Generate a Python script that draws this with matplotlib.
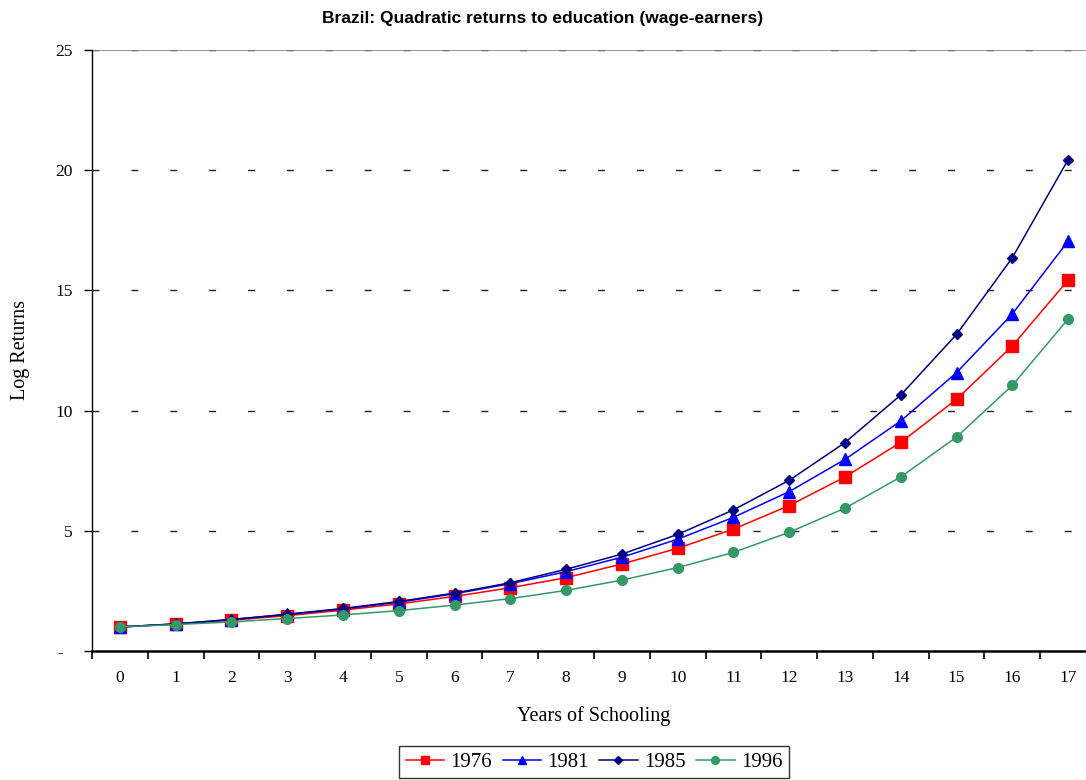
import matplotlib
matplotlib.use("Agg")
import matplotlib.pyplot as plt

# dados
anos_estudo = list(range(18))
r1976 = [1.00, 1.12, 1.28, 1.47, 1.70, 1.96, 2.27, 2.63, 3.05, 3.62, 4.27, 5.07, 6.05, 7.24, 8.68, 10.47, 12.69, 15.43]
r1981 = [1.00, 1.12, 1.31, 1.52, 1.75, 2.03, 2.38, 2.80, 3.30, 3.90, 4.65, 5.56, 6.63, 7.97, 9.57, 11.58, 14.02, 17.05]
r1985 = [1.00, 1.13, 1.31, 1.53, 1.77, 2.06, 2.41, 2.84, 3.40, 4.03, 4.85, 5.87, 7.10, 8.67, 10.65, 13.17, 16.36, 20.44]
r1996 = [1.00, 1.10, 1.21, 1.35, 1.50, 1.68, 1.91, 2.18, 2.52, 2.95, 3.47, 4.10, 4.94, 5.94, 7.24, 8.90, 11.05, 13.81]
y_ticks = [0, 5, 10, 15, 20, 25]
y_labels = ["-  ", "5", "10", "15", "20", "25"]

serif = "Liberation Serif"

fig = plt.figure(figsize=(10.86, 7.8), dpi=100)
# eixo vai alem da borda direita como no original
ax = fig.add_axes([92/1086, 129/780, 1004/1086, 601/780])

ax.plot(anos_estudo, r1976, color="#FF0000", marker="s", markersize=8, lw=1.1, label="1976")
ax.plot(anos_estudo, r1981, color="#0000FF", marker="^", markersize=8, lw=1.1, label="1981")
ax.plot(anos_estudo, r1985, color="#000080", marker="D", markersize=5.5, lw=1.1, label="1985")
ax.plot(anos_estudo, r1996, color="#339966", marker="o", markersize=7, lw=1.1, label="1996")

ax.set_xlim(-0.5, 17.5)
ax.set_ylim(0, 25)

# grade tracejada
for v in y_ticks[1:]:
    ax.axhline(v, color="#222222", lw=1.0, dashes=(5, 23), zorder=0)
ax.axhline(25, color="#808080", lw=1.2, zorder=0)

ax.set_yticks(y_ticks)
ax.set_yticklabels(y_labels, fontfamily=serif, fontsize=12.5)
ax.set_xticks(anos_estudo)
ax.set_xticklabels([str(a) for a in anos_estudo], fontfamily=serif, fontsize=12.5)
ax.set_xticks([a - 0.5 for a in anos_estudo] + [17.5], minor=True)
ax.tick_params(axis="x", which="major", length=0, pad=14)
ax.tick_params(axis="x", which="minor", length=6, width=1.2, direction="out")
ax.tick_params(axis="y", length=6, width=1, direction="out", pad=8)

ax.spines["top"].set_visible(False)
ax.spines["right"].set_visible(False)
ax.spines["bottom"].set_linewidth(1.8)
ax.spines["left"].set_linewidth(1.0)

ax.set_xlabel("Years of Schooling", fontfamily=serif, fontsize=14.5, labelpad=14)
ax.set_ylabel("Log Returns", fontfamily=serif, fontsize=14.5, labelpad=18)

fig.text(0.5, 1 - 18/780, "Brazil: Quadratic returns to education (wage-earners)",
         ha="center", va="center", fontfamily="Liberation Sans", fontweight="bold", fontsize=12.5)

leg = ax.legend(loc="center", bbox_to_anchor=(594/1086, 1 - 762/780), bbox_transform=fig.transFigure,
                ncol=4, prop={"family": serif, "size": 15}, frameon=True, fancybox=False,
                handlelength=1.85, handletextpad=0.3, columnspacing=0.5, borderpad=0.3,
                borderaxespad=0, markerscale=0.8)
leg.get_frame().set_edgecolor("black")
leg.get_frame().set_linewidth(1.0)

fig.savefig("out.png", dpi=100)
